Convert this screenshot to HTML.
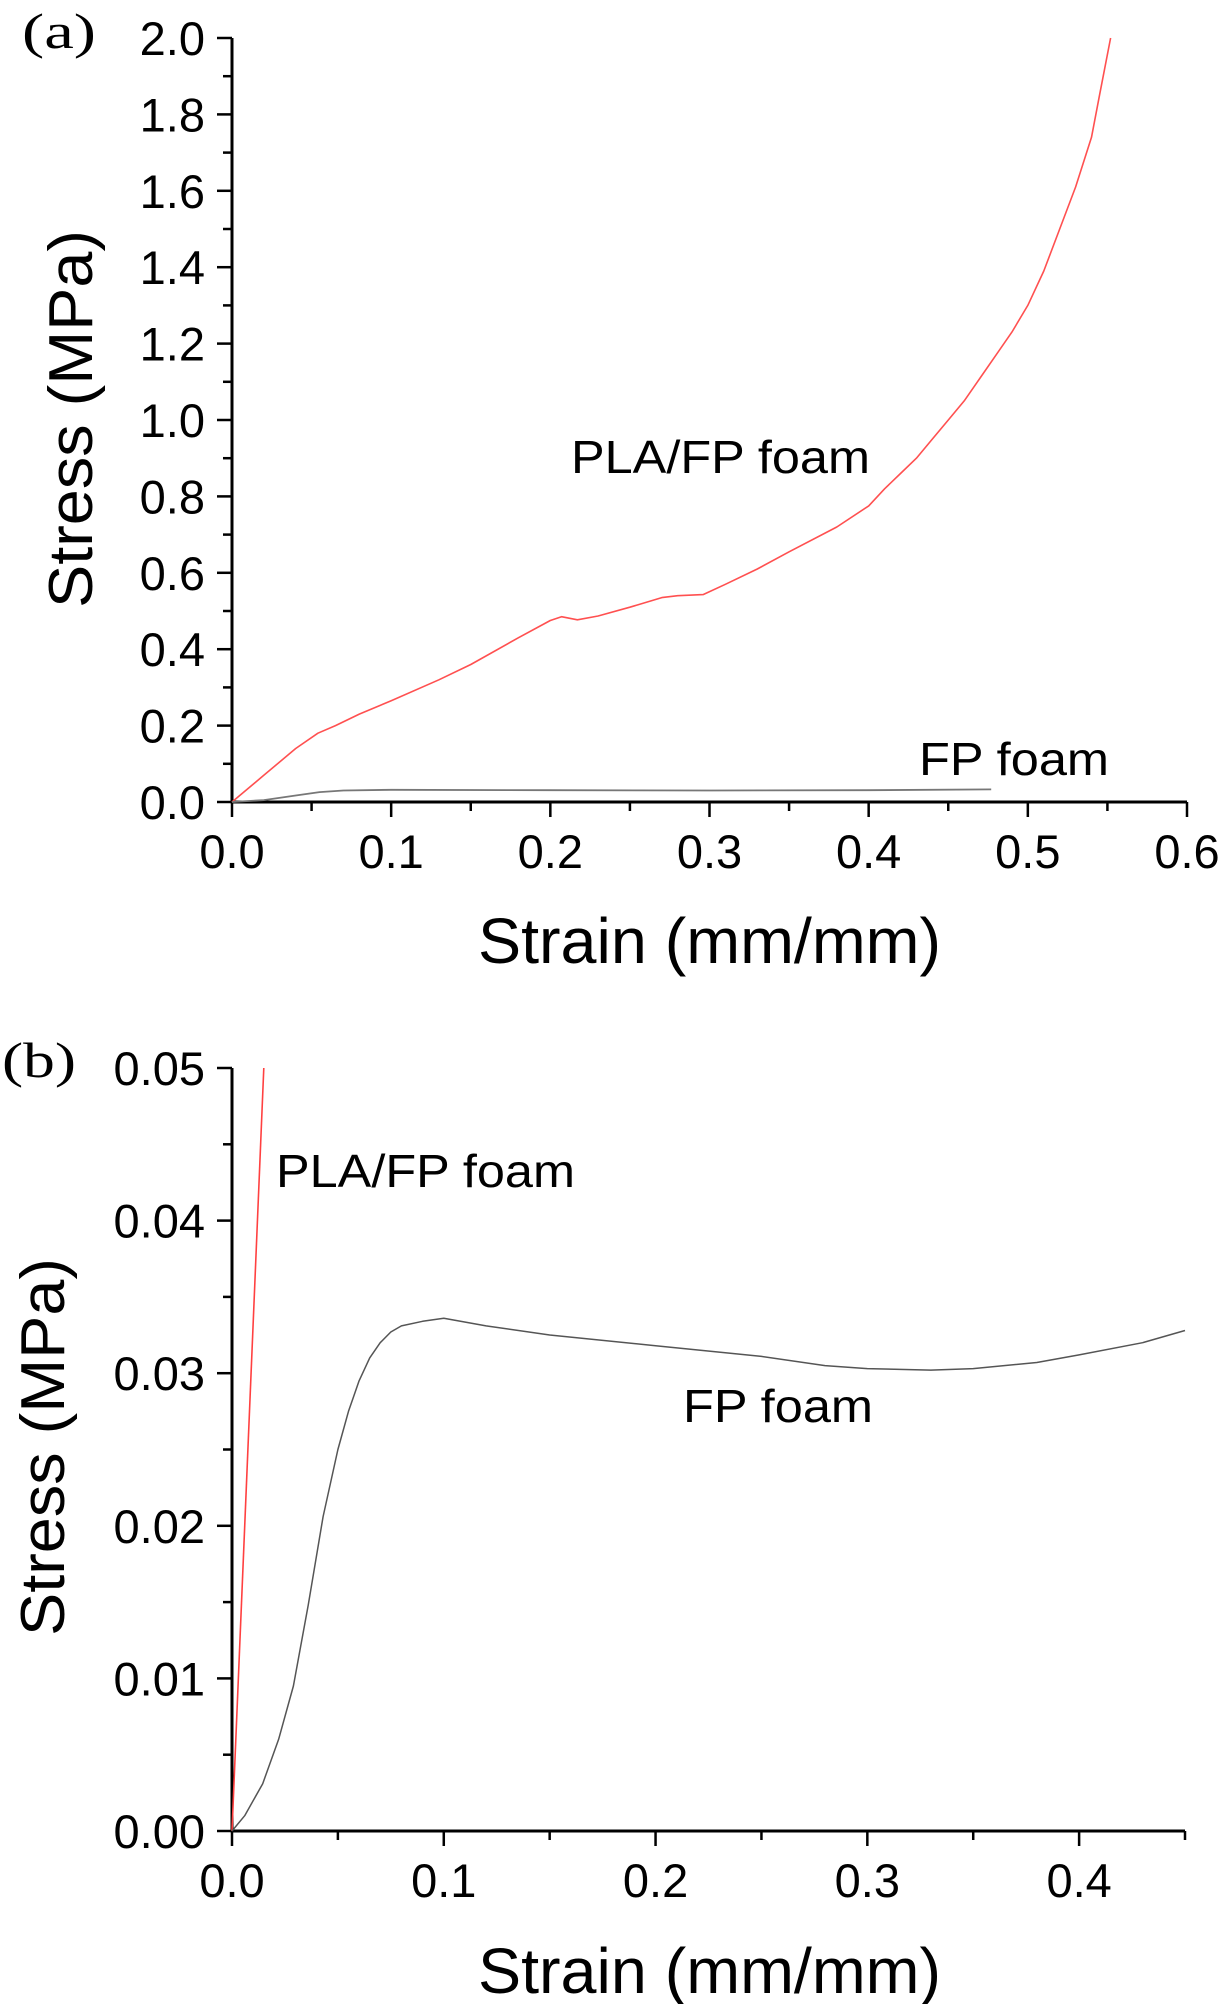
<!DOCTYPE html>
<html><head><meta charset="utf-8"><style>
html,body{margin:0;padding:0;background:#fff;}
svg{display:block;}
text{font-family:"Liberation Sans",sans-serif;fill:#000;}
</style></head><body>
<svg id="fig" width="1220" height="2004" viewBox="0 0 1220 2004" xmlns="http://www.w3.org/2000/svg"></svg>
<script>
// Panel (a) data
const aXTicks = [0, 0.1, 0.2, 0.3, 0.4, 0.5, 0.6];
const aXTickLabels = ["0.0","0.1","0.2","0.3","0.4","0.5","0.6"];
const aYTicks = [0, 0.2, 0.4, 0.6, 0.8, 1.0, 1.2, 1.4, 1.6, 1.8, 2.0];
const aYTickLabels = ["0.0","0.2","0.4","0.6","0.8","1.0","1.2","1.4","1.6","1.8","2.0"];
const aPlaStrain = [0,0.02,0.04,0.054,0.065,0.08,0.1,0.13,0.15,0.18,0.2,0.207,0.217,0.23,0.25,0.27,0.28,0.296,0.31,0.33,0.35,0.38,0.4,0.41,0.42,0.43,0.44,0.45,0.46,0.47,0.48,0.49,0.5,0.51,0.52,0.53,0.54,0.545,0.552];
const aPlaStress = [0,0.07,0.14,0.18,0.2,0.23,0.265,0.32,0.36,0.43,0.475,0.485,0.477,0.487,0.51,0.535,0.54,0.543,0.57,0.61,0.655,0.72,0.775,0.82,0.86,0.9,0.95,1.0,1.05,1.11,1.17,1.23,1.3,1.39,1.5,1.61,1.74,1.85,2.0];
const aFpStrain = [0,0.02,0.04,0.055,0.07,0.1,0.2,0.3,0.4,0.477];
const aFpStress = [0,0.005,0.017,0.026,0.03,0.032,0.031,0.03,0.031,0.033];
// Panel (b) data
const bXTicks = [0, 0.1, 0.2, 0.3, 0.4];
const bXTickLabels = ["0.0","0.1","0.2","0.3","0.4"];
const bYTicks = [0, 0.01, 0.02, 0.03, 0.04, 0.05];
const bYTickLabels = ["0.00","0.01","0.02","0.03","0.04","0.05"];
const bPlaStrain = [0, 0.015];
const bPlaStress = [0, 0.05];
const bFpStrain = [0,0.006,0.0145,0.022,0.029,0.036,0.043,0.05,0.055,0.06,0.065,0.07,0.075,0.08,0.09,0.1,0.12,0.15,0.2,0.25,0.28,0.3,0.33,0.35,0.38,0.4,0.43,0.45];
const bFpStress = [0,0.001,0.0031,0.006,0.0095,0.0148,0.0206,0.025,0.0275,0.0295,0.031,0.032,0.0327,0.0331,0.0334,0.0336,0.0331,0.0325,0.0318,0.0311,0.0305,0.0303,0.0302,0.0303,0.0307,0.0312,0.0320,0.0328];

const NS = "http://www.w3.org/2000/svg";
const svg = document.getElementById("fig");
function mk(tag, attrs, parent){const e=document.createElementNS(NS,tag);for(const k in attrs)e.setAttribute(k,attrs[k]);(parent||svg).appendChild(e);return e;}

function panel(cfg){
  const g = mk("g",{});
  
  
  const sx = v => cfg.x0 + v / cfg.xmax * (cfg.x1 - cfg.x0);
  const sy = v => cfg.y0 - v / cfg.ymax * (cfg.y0 - cfg.y1);
  const ax = mk("path",{d:`M${cfg.x0} ${cfg.y1}V${cfg.y0}H${cfg.x1}`,stroke:"#000","stroke-width":3,fill:"none"},g);
  
  
  const xStep = cfg.xTicks[1]-cfg.xTicks[0];
  for(let v=0; v<=cfg.xmax+1e-9; v+=xStep/2){
    const major = Math.abs(Math.round(v/xStep)*xStep - v) < 1e-9;
    const t = mk("line",{x1:sx(v),x2:sx(v),y1:cfg.y0,y2:cfg.y0+(major?15:9),stroke:"#000","stroke-width":2.5},g);
    
    
  }
  cfg.xTicks.forEach((v,i)=>{
    const t = mk("text",{x:sx(v),y:cfg.y0+66,"font-size":47,"text-anchor":"middle"},g);
    t.textContent = cfg.xLabels[i];
    
    
  });
  const yStep = cfg.yTicks[1]-cfg.yTicks[0];
  for(let v=0; v<=cfg.ymax+1e-9; v+=yStep/2){
    const major = Math.abs(Math.round(v/yStep)*yStep - v) < 1e-9;
    const t = mk("line",{x1:cfg.x0-(major?15:9),x2:cfg.x0,y1:sy(v),y2:sy(v),stroke:"#000","stroke-width":2.5},g);
    
    
  }
  cfg.yTicks.forEach((v,i)=>{
    const t = mk("text",{x:cfg.x0-27,y:sy(v)+17,"font-size":47,"text-anchor":"end"},g);
    t.textContent = cfg.yLabels[i];
    
    
  });
  cfg.series.forEach(s=>{
    const d = s.xs.map((x,i)=>(i?"L":"M")+sx(x).toFixed(1)+" "+sy(s.ys[i]).toFixed(1)).join("");
    const p = mk("path",{d,stroke:s.color,"stroke-width":s.w,fill:"none","stroke-linejoin":"round"},g);
    
    
  });
  return g;
}

panel({name:"panel-a",x0:232,x1:1187,y0:802,y1:38,xmax:0.6,ymax:2.0,
  xTicks:aXTicks,xLabels:aXTickLabels,yTicks:aYTicks,yLabels:aYTickLabels,
  series:[{name:"pla-fp-foam-line-a",xs:aPlaStrain,ys:aPlaStress,color:"#ff5050",w:1.6},
          {name:"fp-foam-line-a",xs:aFpStrain,ys:aFpStress,color:"#777",w:1.8}]});
panel({name:"panel-b",x0:232,x1:1185,y0:1831,y1:1068,xmax:0.45,ymax:0.05,
  xTicks:bXTicks,xLabels:bXTickLabels,yTicks:bYTicks,yLabels:bYTickLabels,
  series:[{name:"pla-fp-foam-line-b",xs:bPlaStrain,ys:bPlaStress,color:"#ff4040",w:1.6},
          {name:"fp-foam-line-b",xs:bFpStrain,ys:bFpStress,color:"#555",w:1.5}]});

function label(txt,x,y,size,len,name,extra){
  const t = mk("text",Object.assign({x,y,"font-size":size,textLength:len,lengthAdjust:"spacingAndGlyphs"},extra||{}));
  t.textContent = txt;
  
  
  return t;
}
label("(a)",22,48,50,74,"panel-a-label",{style:"font-family:'Liberation Serif',serif"});
label("(b)",2,1077,50,74,"panel-b-label",{style:"font-family:'Liberation Serif',serif"});
label("PLA/FP foam",571,473,46,299,"pla-fp-foam-annotation-a");
label("FP foam",919,775,46,190,"fp-foam-annotation-a");
label("PLA/FP foam",276,1187,46,299,"pla-fp-foam-annotation-b");
label("FP foam",683,1422,46,190,"fp-foam-annotation-b");
label("Strain (mm/mm)",478,963,64,463,"x-axis-title-a");
label("Strain (mm/mm)",478,1993,64,463,"x-axis-title-b");
label("Stress (MPa)",0,0,62,378,"y-axis-title-a",{transform:"translate(92,608) rotate(-90)"});
label("Stress (MPa)",0,0,62,378,"y-axis-title-b",{transform:"translate(64,1636) rotate(-90)"});
</script>
</body></html>
